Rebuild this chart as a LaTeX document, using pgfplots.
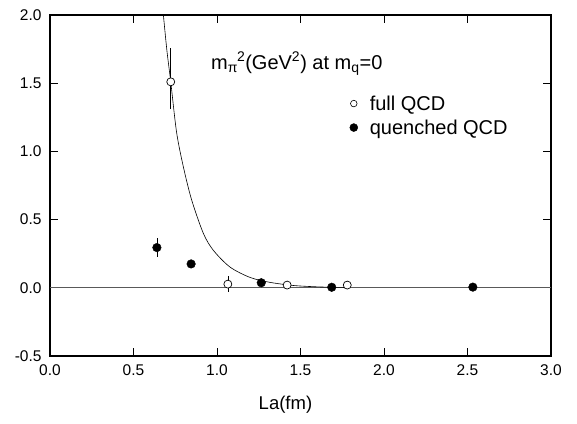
\documentclass[border=0pt]{standalone}
\usepackage{pgfplots}
\pgfplotsset{compat=1.18}
\usepackage{fontspec}
\setmainfont{Liberation Sans}
\pgfplotstableread{
x      y      ep    em
0.723  1.51   0.25  0.20
1.065  0.027  0.057 0.057
1.42   0.020  0.0   0.0
1.78   0.020  0.0   0.0
}\fullqcd
\pgfplotstableread{
x      y      ep    em
0.640  0.295  0.07  0.07
0.845  0.175  0.02  0.02
1.265  0.037  0.0   0.0
1.687  0.004  0.0   0.0
2.532  0.005  0.0   0.0
}\quenched
\begin{document}
\begin{tikzpicture}
\begin{axis}[name=a, scale only axis, width=501pt, height=341pt,
  xmin=0, xmax=3, ymin=-0.5, ymax=2,
  xtick={0,0.5,1,1.5,2,2.5,3}, ytick={-0.5,0,0.5,1,1.5,2},
  tick align=inside, major tick length=8pt,
  axis line style={line width=1.1pt},
  every tick/.style={line width=0.9pt, black},
  tick label style={font=\fontsize{15.5}{18}\selectfont},
  /pgf/number format/.cd, fixed, fixed zerofill, precision=1, assume math mode=true,
  /pgfplots/.cd,
  xticklabel style={yshift=-5pt},
  yticklabel style={xshift=-5pt},
  xlabel={La(fm)},
  xlabel style={font=\fontsize{18.5}{22}\selectfont, at={(axis description cs:0.47,-0.144)}, anchor=center},
  clip=true,
  legend style={draw=none, fill=none, font=\fontsize{20}{23}\selectfont,
    at={(axis cs:1.776,1.44)}, anchor=north west, row sep=4pt,
    /tikz/every odd column/.append style={column sep=10pt}},
  legend cell align=left,
]
\addplot[gray!70!black, line width=0.8pt, forget plot] coordinates {(0,0) (3,0)};
\addplot[black, line width=0.6pt, smooth, forget plot] coordinates {
(0.676,2.05) (0.679,2.0) (0.700,1.74) (0.723,1.51) (0.758,1.14) (0.798,0.89) (0.848,0.645)
(0.918,0.40) (0.978,0.275) (1.078,0.152) (1.198,0.076) (1.317,0.040)
(1.457,0.017) (1.60,0.007) (1.697,0.004) (1.78,0.002)};
\addplot[forget plot, only marks, mark=*, mark size=4pt, black, mark options={fill=white, line width=0.7pt},
  error bars/.cd, y dir=both, y explicit, error mark=none,
  error bar style={line width=0.6pt, black}]
  table[x=x, y=y, y error plus=ep, y error minus=em]{\fullqcd};
\addplot[forget plot, only marks, mark=*, mark size=4.3pt, black,
  error bars/.cd, y dir=both, y explicit, error mark=none,
  error bar style={line width=0.6pt, black}]
  table[x=x, y=y, y error plus=ep, y error minus=em]{\quenched};
\addlegendimage{only marks, mark=*, mark size=3.3pt, black, mark options={fill=white, line width=0.6pt}}
\addlegendentry{full QCD}
\addlegendimage{only marks, mark=*, mark size=4pt, black}
\addlegendentry{quenched QCD}
\node[anchor=west, font=\fontsize{20}{23}\selectfont, inner sep=0pt] at (axis cs:0.964,1.645)
  {m\textsubscript{π}\kern-0.05em\textsuperscript{2}(GeV\textsuperscript{2}) at m\textsubscript{q}=0};
\end{axis}
\pgfresetboundingbox
\path ([xshift=-50pt,yshift=-67pt]a.south west) rectangle ([xshift=26pt,yshift=15pt]a.north east);
\end{tikzpicture}
\end{document}
